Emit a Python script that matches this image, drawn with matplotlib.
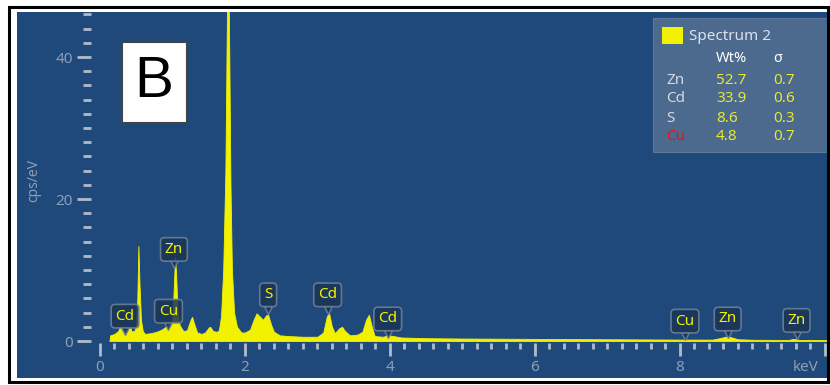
import matplotlib
matplotlib.use('Agg')
import matplotlib.pyplot as plt
from matplotlib.patches import Rectangle
from matplotlib.transforms import offset_copy
import numpy as np

# spectrum outline (keV, cps/eV)
energy = [0.13, 0.14, 0.20, 0.25, 0.28, 0.31, 0.34, 0.37, 0.41, 0.44, 0.48,
          0.50, 0.515, 0.53, 0.545, 0.565, 0.59, 0.62, 0.70, 0.78, 0.85,
          0.92, 0.98, 1.00, 1.02, 1.035, 1.05, 1.07, 1.10, 1.15, 1.20, 1.25,
          1.27, 1.30, 1.34, 1.40, 1.45, 1.50, 1.52, 1.56, 1.61, 1.64, 1.67,
          1.70, 1.73, 1.755, 1.775, 1.80, 1.82, 1.85, 1.89, 1.95, 2.00, 2.07,
          2.12, 2.16, 2.20, 2.25, 2.29, 2.32, 2.36, 2.40, 2.48, 2.60, 2.80,
          3.00, 3.08, 3.13, 3.16, 3.20, 3.24, 3.30, 3.34, 3.38, 3.45, 3.55,
          3.62, 3.67, 3.71, 3.75, 3.79, 3.90, 3.98, 4.05, 4.15, 4.50, 5.00,
          6.00, 7.00, 8.00, 8.45, 8.55, 8.63, 8.70, 8.80, 9.00, 9.50, 9.57,
          9.65, 10.05]
counts = [0.0, 0.8, 1.0, 1.4, 2.1, 1.3, 1.6, 1.2, 2.0, 1.3, 1.5,
          2.5, 6.0, 13.4, 8.0, 3.0, 1.4, 1.0, 1.1, 1.3, 1.6,
          2.1, 2.6, 3.0, 8.0, 11.8, 9.5, 4.0, 2.2, 1.4, 1.5, 3.0,
          3.4, 2.4, 1.2, 1.0, 1.2, 1.9, 2.0, 1.4, 1.3, 1.5, 3.5,
          10.0, 24.0, 50.0, 50.0, 22.0, 10.0, 4.0, 2.0, 1.2, 1.2, 1.6,
          3.0, 3.9, 3.5, 3.0, 3.6, 3.7, 2.3, 1.3, 0.8, 0.7, 0.6,
          0.6, 1.2, 3.5, 3.9, 2.0, 1.1, 1.8, 2.0, 1.4, 0.8, 0.9,
          1.3, 3.0, 3.7, 2.0, 0.7, 0.6, 0.8, 0.7, 0.5, 0.4, 0.35,
          0.3, 0.25, 0.2, 0.2, 0.4, 0.6, 0.55, 0.25, 0.18, 0.15, 0.3,
          0.15, 0.15]

# peak labels (element, keV, box centre in cps/eV)
peak_names = ['Cd', 'Cu', 'Zn', 'S', 'Cd', 'Cd', 'Cu', 'Zn', 'Zn']
peak_x = [0.345, 0.945, 1.02, 2.32, 3.14, 3.97, 8.07, 8.66, 9.61]
peak_y = [3.5, 4.2, 12.9, 6.5, 6.5, 3.1, 2.8, 3.1, 2.9]

# quantification table
elements = ['Zn', 'Cd', 'S', 'Cu']
wt_pct = ['52.7', '33.9', '8.6', '4.8']
sigma = ['0.7', '0.6', '0.3', '0.7']
elem_colors = ['#d4d9e2', '#d4d9e2', '#d4d9e2', '#e8141a']

BG = '#1f487b'
YEL = '#f2f200'
TICK = '#b0bccb'
LAB = '#8e9fb6'
FONT = 'Noto Sans'

W, H = 830, 385


def px(x, y):
    # figure pixel (from top-left) -> figure fraction
    return x / W, 1 - y / H


fig = plt.figure(figsize=(8.3, 3.85), dpi=100, facecolor='white')
ax = fig.add_axes([17 / W, 1 - 378 / H, (827 - 17) / W, (378 - 12) / H])
ax.set_facecolor(BG)
ax.set_xlim(-1.145, 10.03)
ax.set_ylim(-5.21, 46.34)

ax.fill_between(energy, 0, counts, color=YEL, lw=0.6, zorder=3)

# axes styled like the EDS software
for side in ['top', 'right']:
    ax.spines[side].set_visible(False)
ax.spines['bottom'].set_position(('data', -0.28))
ax.spines['left'].set_position(('data', -0.124))
ax.spines['bottom'].set_color('none')
ax.spines['left'].set_color('none')

ax.set_xticks(np.arange(0, 10.1, 2))
ax.set_xticklabels(['0', '2', '4', '6', '8', ''])
ax.set_xticks(np.arange(0, 10.05, 0.2), minor=True)
ax.set_yticks([0, 20, 40])
ax.set_yticks(np.arange(0, 46.5, 2), minor=True)
ax.tick_params(axis='both', which='major', color=TICK, width=2,
               labelcolor=LAB, labelsize=11, direction='out')
ax.tick_params(axis='both', which='minor', color=TICK, width=2,
               direction='out')
ax.tick_params(axis='x', which='major', length=9, pad=3)
ax.tick_params(axis='x', which='minor', length=4.5)
ax.tick_params(axis='y', which='major', length=10, pad=3)
ax.tick_params(axis='y', which='minor', length=6)
for lbl in ax.get_xticklabels() + ax.get_yticklabels():
    lbl.set_fontfamily(FONT)

ax.text(9.73, -0.28, 'keV', ha='center', va='top', color=LAB,
        fontsize=11, family=FONT, clip_on=True,
        transform=offset_copy(ax.transData, fig, y=-17, units='dots'))
fig.text(*px(34, 180), 'cps/eV', rotation=90, ha='center', va='center',
         color=LAB, fontsize=10, family=FONT)

# peak label boxes with a small pointer
tri_tr = offset_copy(ax.transData, fig, y=-15, units='dots')
for name, x, y in zip(peak_names, peak_x, peak_y):
    ax.plot(x, y, marker='v', ms=6, mfc='#1b3656', mec='#6f8299',
            mew=1, transform=tri_tr, zorder=4, alpha=0.9)
    ax.text(x, y, name, ha='center', va='center', color=YEL,
            fontsize=11, family=FONT, zorder=5,
            bbox=dict(boxstyle='round,pad=0.28,rounding_size=0.25',
                      fc='#1b3656', ec='#6f8299', lw=1.2, alpha=0.85))

# "B" panel letter
fig.patches.append(Rectangle(px(122, 122), 64 / W, 80 / H,
                             transform=fig.transFigure, fc='white',
                             ec='#444444', lw=0.8, zorder=6))
fig.text(*px(154, 82), 'B', ha='center', va='center', fontsize=42,
         family='Liberation Sans', color='black', zorder=7)

# quantification legend
fig.patches.append(Rectangle(px(653, 152), (828 - 653) / W, 134 / H,
                             transform=fig.transFigure, fc='#4b6a8e',
                             ec='#5d7a9c', lw=0.8, zorder=6))
fig.patches.append(Rectangle(px(662, 44), 21 / W, 17 / H,
                             transform=fig.transFigure, fc=YEL,
                             ec='none', zorder=7))
fig.text(*px(689, 36), 'Spectrum 2', ha='left', va='center',
         color='#dde2ea', fontsize=11, family=FONT, zorder=7)
fig.text(*px(716, 59), 'Wt%', ha='left', va='center', color='white',
         fontsize=10.5, weight='bold', family=FONT, zorder=7)
fig.text(*px(773, 59), 'σ', ha='left', va='center', color='white',
         fontsize=10.5, weight='bold', family=FONT, zorder=7)
for i, (el, wt, sg, c) in enumerate(zip(elements, wt_pct, sigma,
                                        elem_colors)):
    yy = 80 + i * 19
    fig.text(*px(666, yy), el, ha='left', va='center', color=c,
             fontsize=11, family=FONT, zorder=7)
    fig.text(*px(716, yy), wt, ha='left', va='center', color='#e6e635',
             fontsize=11, family=FONT, zorder=7)
    fig.text(*px(773, yy), sg, ha='left', va='center', color='#e6e635',
             fontsize=11, family=FONT, zorder=7)

# black frame around the whole panel
fig.patches.append(Rectangle(px(8.5, 382), (827.5 - 8.5) / W,
                             (382 - 6.5) / H, transform=fig.transFigure,
                             fc='none', ec='black', lw=2.2, zorder=8))

fig.savefig('out.png', dpi=100, facecolor='white')
